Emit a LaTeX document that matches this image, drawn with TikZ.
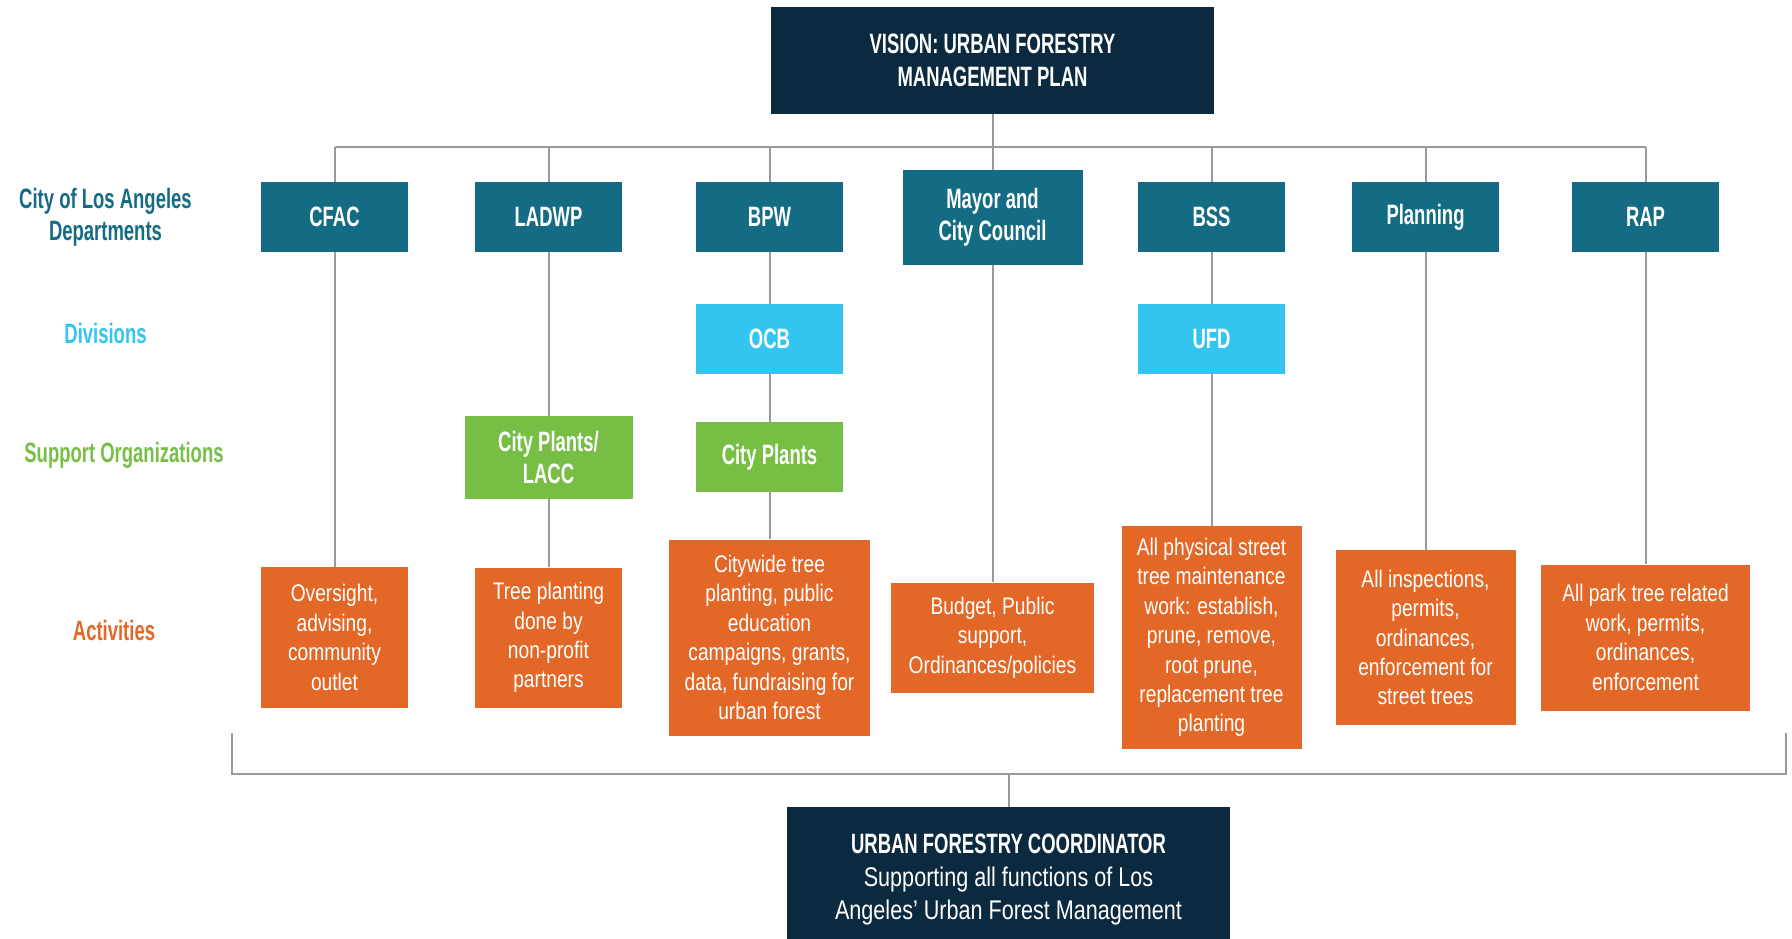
\documentclass[tikz,border=0pt]{standalone}
\usepackage{fontspec}
\setmainfont{Liberation Sans}[FakeStretch=0.8,BoldFeatures={FakeStretch=0.66}]
\usetikzlibrary{positioning}
\definecolor{navy}{HTML}{0B2A40}
\definecolor{deptteal}{HTML}{136C84}
\definecolor{divblue}{HTML}{33C5F0}
\definecolor{orggreen}{HTML}{76BE44}
\definecolor{actorange}{HTML}{E36727}
\definecolor{linegray}{HTML}{9A9A9A}

\begin{document}
\begin{tikzpicture}[
    x=0.5pt, y=-0.5pt,
    font=\fontsize{12}{14.7}\selectfont
]
\tikzset{
    plainbox/.style = {rectangle, align=center, inner sep=0pt, text=white},
    visionbox/.style = {plainbox, fill=navy, minimum width=221.5pt, minimum height=53.5pt, font=\bfseries\fontsize{14}{16.5}\selectfont},
    deptbox/.style = {plainbox, fill=deptteal, minimum width=73.5pt, minimum height=35pt, font=\bfseries\fontsize{14}{16}\selectfont},
    divbox/.style = {deptbox, fill=divblue},
    orgbox/.style = {deptbox, fill=orggreen},
    actbox/.style = {plainbox, fill=actorange},
    rowlabel/.style = {align=center, font=\bfseries\fontsize{14}{16}\selectfont},
    link/.style = {draw=linegray, line width=1pt}
}
\useasboundingbox (0,0) rectangle (1792,938);
\node[visionbox] at (992.5,60.5) (vision) {VISION: URBAN FORESTRY\\MANAGEMENT PLAN};
\node[rowlabel, text=deptteal] at (105.5,217) (deptlabel) {City of Los Angeles\\Departments};
\node[rowlabel, text=divblue] at (105.5,333) (divlabel) {Divisions};
\node[rowlabel, text=orggreen] at (124,455) (orglabel) {Support Organizations};
\node[rowlabel, text=actorange] at (114,630) (actlabel) {Activities};
\node[deptbox] at (334.5,217) (cfac) {CFAC};
\node[deptbox] at (548.5,217) (ladwp) {LADWP};
\node[deptbox] at (769.5,217) (bpw) {BPW};
\node[deptbox, minimum width=90pt, minimum height=47.5pt] at (992.5,217.5) (mayor) {Mayor and\\City Council};
\node[deptbox] at (1211.5,217) (bss) {BSS};
\node[deptbox] at (1425.5,217) (planning) {Planning};
\node[deptbox] at (1645.5,217) (rap) {RAP};
\node[divbox] at (769.5,339) (ocb) {OCB};
\node[divbox] at (1211.5,339) (ufd) {UFD};
\node[orgbox, minimum width=84pt, minimum height=41.5pt] at (548.5,457.5) (lacc) {City Plants/\\LACC};
\node[orgbox] at (769.5,457) (cityplants) {City Plants};
\node[actbox, minimum width=73.5pt, minimum height=70.5pt] at (334.5,637.5) (oversight) {Oversight,\\advising,\\community\\outlet};
\node[actbox, minimum width=73.5pt, minimum height=70pt] at (548.5,637.5) (treeplanting) {Tree planting\\done by\\non-profit\\partners};
\node[actbox, minimum width=100.5pt, minimum height=98pt] at (769.5,637.5) (citywide) {Citywide tree\\planting, public\\education\\campaigns, grants,\\data, fundraising for\\urban forest};
\node[actbox, minimum width=101.5pt, minimum height=55pt] at (992.5,637.5) (budget) {Budget, Public\\support,\\Ordinances/policies};
\node[actbox, minimum width=90pt, minimum height=111.5pt] at (1211.5,637.5) (physical) {All physical street\\tree maintenance\\work: establish,\\prune, remove,\\root prune,\\replacement tree\\planting};
\node[actbox, minimum width=90pt, minimum height=87.5pt] at (1425.5,637.5) (inspections) {All inspections,\\permits,\\ordinances,\\enforcement for\\street trees};
\node[actbox, minimum width=104.5pt, minimum height=73pt] at (1645.5,637.5) (parktree) {All park tree related\\work, permits,\\ordinances,\\enforcement};
\node[visionbox, minimum height=72.5pt, font=\fontsize{13.5}{16.5}\selectfont] at (1008.5,879.5) (coordinator) {\textbf{\fontsize{14}{16.5}\selectfont URBAN FORESTRY COORDINATOR}\\Supporting all functions of Los\\Angeles' Urban Forest Management};
\coordinate (topbus) at (0,147);
\coordinate (lowbus) at (0,774);
\coordinate (bracketl) at (232,733);
\coordinate (bracketr) at (1786,733);
\draw[link] (vision) -- (vision |- topbus);
\draw[link] (cfac |- topbus) -- (rap |- topbus);
\foreach \dept in {cfac,ladwp,bpw,mayor,bss,planning,rap}
    \draw[link] (\dept |- topbus) -- (\dept);
\draw[link] (cfac) -- (oversight);
\draw[link] (ladwp) -- (lacc);
\draw[link] (lacc) -- (treeplanting);
\draw[link] (bpw) -- (ocb);
\draw[link] (ocb) -- (cityplants);
\draw[link] (cityplants) -- (citywide);
\draw[link] (mayor) -- (budget);
\draw[link] (bss) -- (ufd);
\draw[link] (ufd) -- (physical);
\draw[link] (planning) -- (inspections);
\draw[link] (rap) -- (parktree);
\draw[link] (bracketl) -- (bracketl |- lowbus) -- (bracketr |- lowbus) -- (bracketr);
\draw[link] (coordinator |- lowbus) -- (coordinator);
\end{tikzpicture}
\end{document}
